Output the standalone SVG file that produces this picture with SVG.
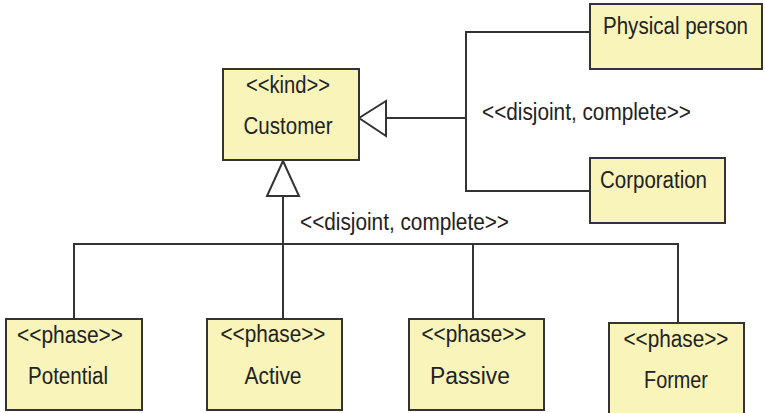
<svg xmlns="http://www.w3.org/2000/svg" width="765" height="413" viewBox="0 0 765 413">
<style>
.box{fill:#f8f4ba;stroke:#333;stroke-width:2}
.t{font-family:"Liberation Sans",Arial,sans-serif;font-size:23px;fill:#222;text-anchor:middle}
.tl{font-family:"Liberation Sans",Arial,sans-serif;font-size:23px;fill:#222}
.ln{fill:none;stroke:#333;stroke-width:2}
.tri{fill:#fff;stroke:#333;stroke-width:2}
</style>
<rect width="765" height="413" fill="#fff"/>
<g id="connectors">
<polyline class="ln" points="590,32 466,32 466,191 590,191"/>
<line class="ln" x1="386" y1="118" x2="466" y2="118"/>
<polygon class="tri" points="359,118 386,101 386,136"/>
<line class="ln" x1="283" y1="196" x2="283" y2="319"/>
<polyline class="ln" points="74,319 74,244 678,244 678,323"/>
<line class="ln" x1="473" y1="244" x2="473" y2="319"/>
<polygon class="tri" points="283,161 267,196 299,196"/>
<text class="tl" x="482" y="120" textLength="209" lengthAdjust="spacingAndGlyphs">&lt;&lt;disjoint, complete&gt;&gt;</text>
<text class="tl" x="300" y="230" textLength="209" lengthAdjust="spacingAndGlyphs">&lt;&lt;disjoint, complete&gt;&gt;</text>
</g>
<g id="customer">
<rect class="box" x="223" y="69" width="136" height="91"/>
<text class="t" x="288" y="93" textLength="84" lengthAdjust="spacingAndGlyphs">&lt;&lt;kind&gt;&gt;</text>
<text class="t" x="288" y="134" textLength="89" lengthAdjust="spacingAndGlyphs">Customer</text>
</g>
<g id="physical-person">
<rect class="box" x="590" y="4" width="172" height="65"/>
<text class="tl" x="603" y="34" textLength="145" lengthAdjust="spacingAndGlyphs">Physical person</text>
</g>
<g id="corporation">
<rect class="box" x="590" y="158" width="135" height="65"/>
<text class="tl" x="600" y="188" textLength="107" lengthAdjust="spacingAndGlyphs">Corporation</text>
</g>
<g id="potential">
<rect class="box" x="6" y="319" width="136" height="91"/>
<text class="t" x="70" y="343" textLength="106" lengthAdjust="spacingAndGlyphs">&lt;&lt;phase&gt;&gt;</text>
<text class="t" x="68" y="384" textLength="80" lengthAdjust="spacingAndGlyphs">Potential</text>
</g>
<g id="active">
<rect class="box" x="207" y="319" width="135" height="91"/>
<text class="t" x="273" y="342" textLength="105" lengthAdjust="spacingAndGlyphs">&lt;&lt;phase&gt;&gt;</text>
<text class="t" x="273" y="384" textLength="57" lengthAdjust="spacingAndGlyphs">Active</text>
</g>
<g id="passive">
<rect class="box" x="409" y="319" width="135" height="91"/>
<text class="t" x="474" y="342" textLength="105" lengthAdjust="spacingAndGlyphs">&lt;&lt;phase&gt;&gt;</text>
<text class="t" x="470" y="384" textLength="80" lengthAdjust="spacingAndGlyphs">Passive</text>
</g>
<g id="former">
<rect class="box" x="609" y="323" width="135" height="95"/>
<text class="t" x="676" y="347" textLength="105" lengthAdjust="spacingAndGlyphs">&lt;&lt;phase&gt;&gt;</text>
<text class="t" x="676" y="388" textLength="64" lengthAdjust="spacingAndGlyphs">Former</text>
</g>
</svg>
